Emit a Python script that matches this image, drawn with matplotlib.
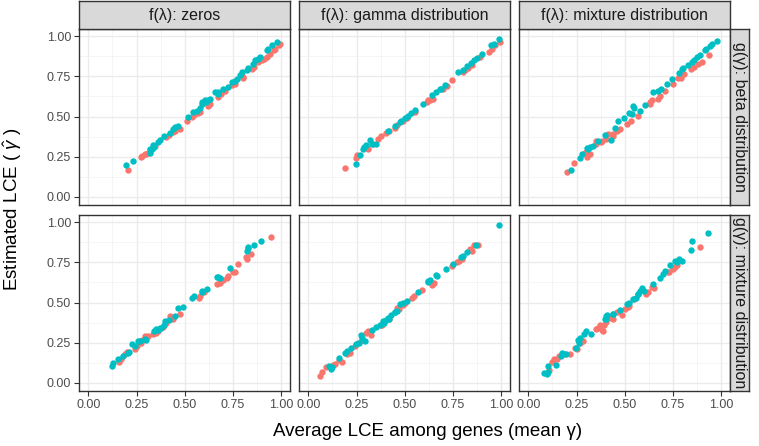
import matplotlib
matplotlib.use("Agg")
import matplotlib.pyplot as plt
import numpy as np

plt.rcParams['font.family'] = ['Liberation Sans', 'DejaVu Sans']
plt.rcParams['mathtext.fontset'] = 'custom'
plt.rcParams['mathtext.rm'] = 'Liberation Sans'
plt.rcParams['mathtext.it'] = 'Liberation Sans:italic'

col_labels = ['f(λ): zeros', 'f(λ): gamma distribution', 'f(λ): mixture distribution']
row_labels = ['g(γ): beta distribution', 'g(γ): mixture distribution']
ticks = [0.0, 0.25, 0.5, 0.75, 1.0]
tick_labels = ['0.00', '0.25', '0.50', '0.75', '1.00']

# top row: g = beta
zb_red_x = [0.205, 0.271, 0.292, 0.309, 0.344, 0.405, 0.439, 0.474, 0.509, 0.535, 0.569, 0.621,
            0.674, 0.708, 0.743, 0.804, 0.847, 0.882, 0.899, 0.925, 0.960, 0.986, 0.995,
            0.28, 0.30, 0.32, 0.42, 0.45, 0.55, 0.58, 0.63, 0.69, 0.76, 0.80, 0.86, 0.91, 0.94, 0.97]
zb_red_y = [0.168, 0.249, 0.266, 0.276, 0.318, 0.370, 0.401, 0.422, 0.474, 0.495, 0.522, 0.568,
            0.620, 0.661, 0.693, 0.745, 0.797, 0.839, 0.849, 0.870, 0.911, 0.943, 0.953,
            0.255, 0.27, 0.29, 0.385, 0.41, 0.51, 0.53, 0.58, 0.64, 0.70, 0.74, 0.81, 0.86, 0.89, 0.92]
zb_blue_x = [0.193, 0.231, 0.318, 0.318, 0.335, 0.370, 0.392, 0.422, 0.448, 0.465, 0.517, 0.543,
             0.561, 0.578, 0.587, 0.604, 0.630, 0.656, 0.674, 0.700, 0.726, 0.743, 0.769, 0.786,
             0.795, 0.830, 0.856, 0.865, 0.891, 0.925, 0.951, 0.977,
             0.33, 0.34, 0.36, 0.44, 0.59, 0.61, 0.62, 0.67, 0.76, 0.82, 0.88, 0.93]
zb_blue_y = [0.197, 0.224, 0.276, 0.297, 0.322, 0.355, 0.376, 0.397, 0.432, 0.443, 0.495, 0.526,
             0.536, 0.551, 0.578, 0.605, 0.609, 0.651, 0.655, 0.672, 0.682, 0.714, 0.734, 0.755,
             0.776, 0.801, 0.828, 0.849, 0.870, 0.911, 0.943, 0.964,
             0.30, 0.31, 0.34, 0.42, 0.59, 0.59, 0.60, 0.64, 0.72, 0.79, 0.86, 0.92]

gb_red_x = [0.191, 0.248, 0.309, 0.335, 0.379, 0.405, 0.448, 0.491, 0.552, 0.613, 0.648, 0.700,
            0.743, 0.804, 0.847, 0.891, 0.934, 0.969, 0.995,
            0.25, 0.30, 0.36, 0.42, 0.46, 0.51, 0.62, 0.63, 0.72, 0.81, 0.83, 0.95]
gb_red_y = [0.178, 0.245, 0.297, 0.328, 0.376, 0.397, 0.426, 0.474, 0.530, 0.589, 0.609, 0.672,
            0.724, 0.776, 0.822, 0.870, 0.901, 0.943, 0.964,
            0.26, 0.31, 0.36, 0.41, 0.45, 0.49, 0.60, 0.60, 0.69, 0.79, 0.80, 0.92]
gb_blue_x = [0.245, 0.269, 0.283, 0.318, 0.352, 0.413, 0.474, 0.517, 0.552, 0.595, 0.639, 0.682,
             0.708, 0.778, 0.821, 0.842, 0.873, 0.899, 0.946, 0.991,
             0.29, 0.30, 0.33, 0.45, 0.48, 0.50, 0.53, 0.66, 0.69, 0.80, 0.86, 0.96]
gb_blue_y = [0.203, 0.259, 0.301, 0.355, 0.328, 0.411, 0.464, 0.501, 0.543, 0.578, 0.636, 0.668,
             0.693, 0.776, 0.814, 0.832, 0.864, 0.891, 0.943, 0.980,
             0.31, 0.32, 0.33, 0.44, 0.47, 0.49, 0.52, 0.65, 0.67, 0.79, 0.85, 0.95]

mb_red_x = [0.201, 0.236, 0.295, 0.306, 0.352, 0.378, 0.413, 0.439, 0.474, 0.509, 0.569, 0.630,
            0.682, 0.708, 0.778, 0.809, 0.844, 0.882, 0.938,
            0.30, 0.32, 0.35, 0.38, 0.40, 0.44, 0.46, 0.53, 0.63, 0.64, 0.67, 0.75, 0.79, 0.86, 0.90]
mb_red_y = [0.155, 0.209, 0.276, 0.251, 0.349, 0.339, 0.391, 0.376, 0.422, 0.453, 0.501, 0.593,
            0.630, 0.661, 0.739, 0.766, 0.793, 0.828, 0.884,
            0.28, 0.27, 0.33, 0.35, 0.36, 0.39, 0.41, 0.47, 0.58, 0.60, 0.61, 0.70, 0.74, 0.81, 0.84]
mb_blue_x = [0.222, 0.266, 0.304, 0.335, 0.396, 0.431, 0.465, 0.496, 0.535, 0.543, 0.578, 0.604,
             0.648, 0.717, 0.743, 0.799, 0.847, 0.873, 0.917, 0.943, 0.977,
             0.28, 0.31, 0.32, 0.36, 0.45, 0.52, 0.55, 0.67, 0.69, 0.78, 0.80, 0.83, 0.86, 0.89,
             0.92, 0.95]
mb_blue_y = [0.168, 0.245, 0.307, 0.318, 0.384, 0.355, 0.474, 0.489, 0.516, 0.564, 0.536, 0.572,
             0.655, 0.703, 0.734, 0.793, 0.839, 0.870, 0.911, 0.939, 0.968,
             0.27, 0.30, 0.31, 0.35, 0.43, 0.52, 0.55, 0.66, 0.67, 0.77, 0.80, 0.82, 0.85, 0.88,
             0.92, 0.95]

# bottom row: g = mixture
zm_red_x = [0.161, 0.188, 0.240, 0.274, 0.292, 0.335, 0.387, 0.422, 0.474, 0.573, 0.601, 0.665,
            0.700, 0.722, 0.752, 0.774, 0.816, 0.844, 0.948,
            0.17, 0.20, 0.25, 0.28, 0.31, 0.35, 0.36, 0.40, 0.44, 0.58, 0.68, 0.72, 0.76, 0.82]
zm_red_y = [0.129, 0.177, 0.213, 0.246, 0.291, 0.302, 0.350, 0.413, 0.427, 0.525, 0.566, 0.614,
            0.641, 0.663, 0.691, 0.738, 0.781, 0.802, 0.906,
            0.15, 0.19, 0.23, 0.27, 0.29, 0.31, 0.32, 0.37, 0.40, 0.54, 0.62, 0.65, 0.69, 0.77]
zm_blue_x = [0.122, 0.127, 0.153, 0.205, 0.226, 0.257, 0.295, 0.352, 0.378, 0.399, 0.448, 0.465,
             0.491, 0.535, 0.587, 0.616, 0.665, 0.682, 0.734, 0.821, 0.830, 0.861, 0.894,
             0.18, 0.21, 0.24, 0.27, 0.30, 0.34, 0.36, 0.37, 0.39, 0.42, 0.55, 0.59, 0.67, 0.83]
zm_blue_y = [0.104, 0.121, 0.146, 0.188, 0.240, 0.260, 0.275, 0.333, 0.344, 0.385, 0.413, 0.463,
             0.475, 0.531, 0.563, 0.583, 0.656, 0.650, 0.713, 0.823, 0.844, 0.858, 0.885,
             0.17, 0.19, 0.23, 0.26, 0.27, 0.32, 0.33, 0.34, 0.36, 0.39, 0.54, 0.57, 0.66, 0.84]

gm_red_x = [0.061, 0.071, 0.127, 0.175, 0.214, 0.257, 0.309, 0.326, 0.379, 0.457, 0.491, 0.535,
            0.587, 0.639, 0.743, 0.769, 0.798, 0.847, 0.882,
            0.09, 0.14, 0.16, 0.20, 0.24, 0.28, 0.30, 0.38, 0.42, 0.47, 0.50, 0.55, 0.64, 0.65,
            0.78, 0.84, 0.86]
gm_red_y = [0.041, 0.066, 0.114, 0.129, 0.188, 0.250, 0.323, 0.296, 0.358, 0.463, 0.483, 0.531,
            0.579, 0.621, 0.729, 0.750, 0.771, 0.819, 0.858,
            0.10, 0.12, 0.14, 0.18, 0.23, 0.27, 0.31, 0.36, 0.40, 0.46, 0.50, 0.54, 0.61, 0.62,
            0.76, 0.83, 0.86]
gm_blue_x = [0.109, 0.118, 0.161, 0.188, 0.222, 0.248, 0.274, 0.292, 0.332, 0.370, 0.387, 0.413,
             0.448, 0.474, 0.509, 0.569, 0.621, 0.665, 0.714, 0.748, 0.790, 0.821, 0.870, 0.986,
             0.12, 0.20, 0.26, 0.28, 0.35, 0.39, 0.40, 0.42, 0.43, 0.45, 0.46, 0.49, 0.62, 0.63,
             0.66, 0.80]
gm_blue_y = [0.104, 0.089, 0.156, 0.188, 0.219, 0.240, 0.296, 0.260, 0.329, 0.358, 0.385, 0.406,
             0.438, 0.489, 0.510, 0.563, 0.635, 0.663, 0.708, 0.739, 0.781, 0.813, 0.858, 0.979,
             0.10, 0.20, 0.25, 0.28, 0.35, 0.37, 0.39, 0.40, 0.42, 0.44, 0.45, 0.50, 0.63, 0.64,
             0.67, 0.79]

mm_red_x = [0.109, 0.135, 0.161, 0.214, 0.240, 0.283, 0.352, 0.370, 0.387, 0.431, 0.457, 0.486,
            0.517, 0.621, 0.639, 0.726, 0.752, 0.891,
            0.12, 0.15, 0.19, 0.25, 0.27, 0.36, 0.37, 0.38, 0.39, 0.40, 0.42, 0.44, 0.50, 0.52,
            0.55, 0.61, 0.65, 0.73, 0.76, 0.77]
mm_red_y = [0.079, 0.146, 0.166, 0.181, 0.219, 0.260, 0.333, 0.358, 0.323, 0.406, 0.438, 0.420,
            0.475, 0.566, 0.594, 0.688, 0.708, 0.844,
            0.13, 0.15, 0.18, 0.21, 0.25, 0.34, 0.35, 0.33, 0.36, 0.38, 0.41, 0.40, 0.46, 0.48,
            0.52, 0.55, 0.59, 0.69, 0.72, 0.73]
mm_blue_x = [0.080, 0.097, 0.101, 0.144, 0.174, 0.196, 0.248, 0.257, 0.288, 0.300, 0.326, 0.396,
             0.405, 0.439, 0.474, 0.509, 0.543, 0.569, 0.587, 0.648, 0.682, 0.708, 0.734, 0.769,
             0.795, 0.842, 0.931,
             0.10, 0.17, 0.26, 0.27, 0.40, 0.41, 0.44, 0.52, 0.56, 0.57, 0.58, 0.60, 0.70, 0.76,
             0.78, 0.85]
mm_blue_y = [0.063, 0.058, 0.104, 0.114, 0.188, 0.177, 0.219, 0.266, 0.302, 0.323, 0.302, 0.396,
             0.413, 0.427, 0.454, 0.489, 0.521, 0.552, 0.588, 0.614, 0.650, 0.698, 0.733, 0.750,
             0.760, 0.827, 0.933,
             0.07, 0.17, 0.25, 0.28, 0.40, 0.42, 0.43, 0.50, 0.53, 0.55, 0.57, 0.57, 0.68, 0.76,
             0.77, 0.88]

panels = {
    (0, 0): (zb_red_x, zb_red_y, zb_blue_x, zb_blue_y),
    (0, 1): (gb_red_x, gb_red_y, gb_blue_x, gb_blue_y),
    (0, 2): (mb_red_x, mb_red_y, mb_blue_x, mb_blue_y),
    (1, 0): (zm_red_x, zm_red_y, zm_blue_x, zm_blue_y),
    (1, 1): (gm_red_x, gm_red_y, gm_blue_x, gm_blue_y),
    (1, 2): (mm_red_x, mm_red_y, mm_blue_x, mm_blue_y),
}

W, H = 759, 446
fig = plt.figure(figsize=(W / 100, H / 100), dpi=100)

edge = '#333333'
col_left = [79.3, 299.3, 519.3]
pw = 211
row_top = [28.5, 214.5]
ph = 176

def px_rect(x0, y0, w, h):
    return [x0 / W, 1 - (y0 + h) / H, w / W, h / H]

for (r, c), (rx, ry, bx, by) in panels.items():
    ax = fig.add_axes(px_rect(col_left[c], row_top[r], pw, ph))
    ax.set_xlim(-0.047, 1.047)
    ax.set_ylim(-0.047, 1.047)
    ax.set_xticks(ticks)
    ax.set_yticks(ticks)
    ax.set_xticks([0.125, 0.375, 0.625, 0.875], minor=True)
    ax.set_yticks([0.125, 0.375, 0.625, 0.875], minor=True)
    ax.grid(which='major', color='#EBEBEB', lw=1.0)
    ax.grid(which='minor', color='#F2F2F2', lw=0.5)
    ax.set_axisbelow(True)
    ax.tick_params(which='minor', length=0)
    ax.tick_params(which='major', length=3.5, width=0.8, color=edge,
                   labelsize=9, labelcolor='#4D4D4D', pad=2.5)
    for s in ax.spines.values():
        s.set_color(edge)
        s.set_linewidth(1.0)
    if c == 0:
        ax.set_yticklabels(tick_labels)
    else:
        ax.tick_params(axis='y', left=False, labelleft=False)
    if r == 1:
        ax.set_xticklabels(tick_labels)
    else:
        ax.tick_params(axis='x', bottom=False, labelbottom=False)
    ax.scatter(rx, ry, s=21, color='#F8766D', lw=0, zorder=3)
    ax.scatter(bx, by, s=21, color='#00BFC4', lw=0, zorder=3)

# top strips
for c, lab in enumerate(col_labels):
    sax = fig.add_axes(px_rect(col_left[c], 0.8, pw, 27.7))
    sax.set_facecolor('#D9D9D9')
    sax.set_xticks([])
    sax.set_yticks([])
    for s in sax.spines.values():
        s.set_color(edge)
        s.set_linewidth(1.0)
    sax.text(0.5, 0.48, lab, ha='center', va='center', fontsize=11.5,
             color='#1A1A1A', transform=sax.transAxes)

# right strips
for r, lab in enumerate(row_labels):
    sax = fig.add_axes(px_rect(730.3, row_top[r], 19, ph))
    sax.set_facecolor('#D9D9D9')
    sax.set_xticks([])
    sax.set_yticks([])
    for s in sax.spines.values():
        s.set_color(edge)
        s.set_linewidth(1.0)
    sax.text(0.5, 0.5, lab, ha='center', va='center', fontsize=11.5,
             color='#1A1A1A', rotation=-90, transform=sax.transAxes)

fig.text(428 / W, 1 - 432 / H, 'Average LCE among genes (mean γ)', ha='center',
         va='center', fontsize=13.5)
fig.text(13 / W, 1 - 209 / H, r'Estimated LCE ( $\hat{\gamma}$ )', ha='center',
         va='center', fontsize=13.5, rotation=90)

fig.savefig('out.png', dpi=100)
